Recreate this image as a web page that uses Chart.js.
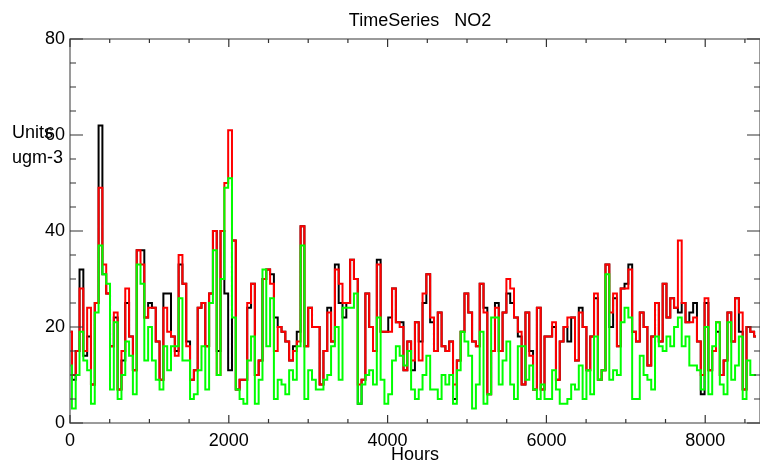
<!DOCTYPE html>
<html>
<head>
<meta charset="utf-8">
<script src="https://cdn.jsdelivr.net/npm/chart.js@4"></script>
<style>
  body { margin: 0; background: #fff; }
  #wrap { width: 760px; height: 464px; }
</style>
</head>
<body>
<div id="wrap"><canvas id="myChart" width="760" height="464"></canvas></div>
<script>
// NO2 time series, values read at ~48 hour spacing
const stepHours = 48;
const red = [
  19, 10, 15, 28, 15, 24, 8, 25, 49, 33,
  27, 16, 23, 7, 15, 28, 18, 11, 36, 33,
  22, 24, 24, 17, 9, 24, 19, 18, 14, 35,
  29, 16, 9, 11, 24, 25, 16, 27, 40, 10,
  40, 50, 61, 38, 7, 9, 9, 25, 29, 10,
  13, 30, 32, 29, 15, 20, 19, 17, 13, 15,
  17, 41, 16, 24, 20, 20, 8, 15, 23, 17,
  32, 29, 25, 25, 34, 30, 8, 9, 27, 20,
  15, 33, 19, 19, 19, 28, 21, 20, 11, 17,
  13, 21, 13, 27, 31, 22, 15, 23, 16, 15,
  17, 8, 13, 19, 27, 23, 17, 16, 29, 23,
  6, 15, 24, 15, 23, 30, 28, 22, 19, 8,
  23, 14, 7, 24, 7, 18, 18, 21, 9, 17,
  20, 22, 22, 13, 23, 20, 11, 18, 27, 9,
  11, 33, 23, 27, 16, 28, 28, 32, 19, 17,
  23, 20, 12, 18, 25, 17, 29, 22, 26, 24,
  38, 25, 21, 21, 22, 17, 10, 26, 11, 15,
  21, 10, 13, 23, 17, 26, 23, 7, 20, 19, 18
];
const green = [
  12, 3, 10, 19, 13, 11, 4, 23, 37, 31,
  29, 7, 21, 5, 10, 17, 14, 6, 33, 29,
  13, 20, 13, 9, 7, 16, 11, 16, 16, 26,
  13, 13, 5, 6, 11, 16, 7, 25, 36, 10,
  30, 49, 51, 22, 7, 5, 4, 13, 18, 4,
  9, 32, 16, 26, 5, 9, 8, 6, 11, 9,
  16, 37, 5, 11, 9, 7, 7, 9, 10, 16,
  20, 9, 24, 24, 24, 27, 4, 8, 10, 11,
  8, 22, 9, 4, 6, 13, 16, 14, 12, 15,
  7, 5, 7, 10, 14, 7, 7, 5, 10, 8,
  10, 4, 11, 19, 17, 14, 3, 8, 19, 4,
  6, 22, 22, 8, 13, 17, 8, 5, 16, 16,
  9, 12, 7, 5, 8, 5, 5, 11, 7, 4,
  4, 5, 8, 7, 12, 5, 11, 6, 18, 9,
  11, 31, 9, 11, 10, 21, 24, 22, 5, 5,
  14, 10, 9, 7, 18, 16, 15, 18, 16, 20,
  22, 16, 18, 12, 12, 11, 7, 20, 6, 16,
  21, 8, 6, 21, 9, 12, 18, 5, 13, 10, 10
];
const black = [
  19, 9, 15, 32, 14, 18, 8, 25, 62, 31,
  27, 16, 22, 7, 13, 25, 18, 11, 36, 36,
  22, 25, 24, 17, 9, 27, 27, 18, 15, 33,
  29, 17, 9, 11, 24, 25, 16, 27, 40, 15,
  40, 27, 11, 38, 7, 9, 9, 24, 29, 10,
  13, 30, 32, 31, 22, 20, 19, 17, 13, 16,
  19, 41, 16, 24, 20, 20, 8, 15, 24, 17,
  33, 25, 22, 25, 34, 30, 4, 9, 27, 20,
  15, 34, 19, 19, 22, 28, 21, 21, 11, 17,
  11, 21, 17, 25, 31, 21, 15, 23, 16, 15,
  17, 5, 13, 19, 27, 23, 17, 16, 29, 24,
  6, 15, 25, 15, 23, 27, 25, 22, 18, 8,
  23, 15, 7, 24, 7, 18, 18, 20, 9, 17,
  20, 17, 22, 13, 24, 20, 11, 18, 26, 9,
  11, 33, 20, 26, 16, 28, 29, 33, 19, 17,
  23, 20, 12, 18, 25, 17, 29, 22, 26, 24,
  23, 25, 21, 23, 25, 17, 6, 25, 11, 15,
  19, 10, 13, 23, 17, 26, 19, 7, 20, 19, 18
];
const xTicks = [0, 2000, 4000, 6000, 8000];
const yTicks = [0, 20, 40, 60, 80];

const hours = red.map((_, i) => i * stepHours);
const toPoints = (arr) => arr.map((v, i) => ({ x: hours[i], y: v }));

const FONT = "'Liberation Sans', Arial, sans-serif";

const framePlugin = {
  id: "frame",
  afterDraw(chart) {
    const ctx = chart.ctx;
    const a = chart.chartArea;
    const xs = chart.scales.x;
    const ys = chart.scales.y;
    ctx.save();
    // box round the plot
    ctx.strokeStyle = "#7a7a7a";
    ctx.lineWidth = 1.5;
    ctx.strokeRect(a.left, a.top, a.right - a.left, a.bottom - a.top);
    // inward ticks on all four sides
    ctx.strokeStyle = "#333";
    ctx.lineWidth = 1.2;
    ctx.beginPath();
    for (let v = 0; v <= xs.max; v += 500) {
      const px = xs.getPixelForValue(v);
      const len = v % 2000 === 0 ? 8 : 4;
      ctx.moveTo(px, a.bottom); ctx.lineTo(px, a.bottom - len);
      ctx.moveTo(px, a.top); ctx.lineTo(px, a.top + len);
    }
    for (let v = 0; v <= ys.max; v += 5) {
      const py = ys.getPixelForValue(v);
      const len = v % 20 === 0 ? 13 : 6;
      ctx.moveTo(a.left, py); ctx.lineTo(a.left + len, py);
      ctx.moveTo(a.right, py); ctx.lineTo(a.right - len, py);
    }
    ctx.stroke();
    // texts
    ctx.fillStyle = "#000";
    ctx.font = "18px " + FONT;
    ctx.textBaseline = "middle";
    ctx.textAlign = "center";
    ctx.fillText("TimeSeries   NO2", 420, 21);
    ctx.fillText("Hours", (a.left + a.right) / 2, 455);
    ctx.textAlign = "left";
    ctx.fillText("Units", 12, 133);
    ctx.fillText("ugm-3", 12, 158);
    ctx.restore();
  }
};

const ctx = document.getElementById("myChart").getContext("2d");
new Chart(ctx, {
  type: "line",
  data: {
    datasets: [
      { label: "green", data: toPoints(green), borderColor: "#00ff00", order: 0 },
      { label: "red", data: toPoints(red), borderColor: "#ff0000", order: 1 },
      { label: "black", data: toPoints(black), borderColor: "#000000", order: 2 }
    ]
  },
  options: {
    responsive: false,
    animation: false,
    layout: { padding: { top: 39, right: 0, left: 0, bottom: 0 } },
    elements: {
      line: { borderWidth: 2, stepped: "middle", tension: 0, fill: false },
      point: { radius: 0, hoverRadius: 0 }
    },
    scales: {
      x: {
        type: "linear",
        min: 0,
        max: 8690,
        afterBuildTicks: (s) => { s.ticks = xTicks.map((v) => ({ value: v })); },
        afterFit: (s) => { s.height = 41; },
        grid: { display: false, drawTicks: false },
        border: { display: false },
        ticks: {
          color: "#000", padding: 7, maxRotation: 0,
          font: { size: 18, family: FONT },
          callback: (v) => String(v)
        }
      },
      y: {
        min: 0,
        max: 80,
        afterBuildTicks: (s) => { s.ticks = yTicks.map((v) => ({ value: v })); },
        afterFit: (s) => { s.width = 70; },
        grid: { display: false, drawTicks: false },
        border: { display: false },
        ticks: {
          color: "#000", padding: 5,
          font: { size: 18, family: FONT },
          callback: (v) => String(v)
        }
      }
    },
    plugins: {
      legend: { display: false },
      tooltip: { enabled: false },
      title: { display: false }
    }
  },
  plugins: [framePlugin]
});
</script>
</body>
</html>
